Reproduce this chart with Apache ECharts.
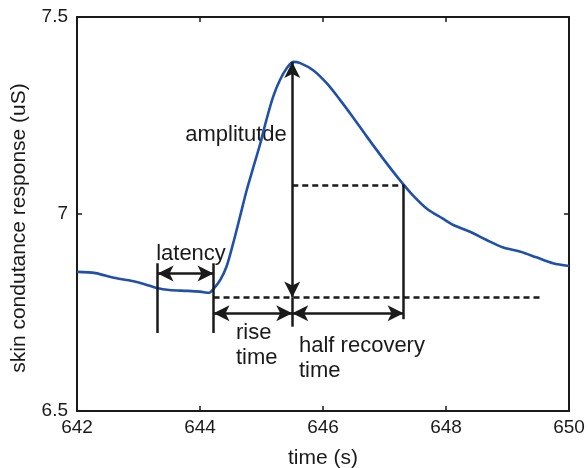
<!DOCTYPE html>
<html><head><meta charset="utf-8">
<script src="https://cdn.jsdelivr.net/npm/echarts@6/dist/echarts.min.js"></script>
<style>html,body{margin:0;padding:0;background:#fff}#c{width:588px;height:468px}</style>
</head><body><div id="c"></div>
<script>
// Skin conductance response curve
const times = [642.0, 642.3, 642.6, 642.9, 643.1, 643.3, 643.5, 643.8, 644.0, 644.15, 644.22, 644.33, 644.43, 644.54, 644.65, 644.76, 644.87, 644.98, 645.08, 645.19, 645.30, 645.41, 645.52, 645.63, 645.84, 646.06, 646.28, 646.49, 646.71, 646.98, 647.25, 647.47, 647.7, 647.95, 648.12, 648.39, 648.66, 648.93, 649.2, 649.47, 649.74, 650.0];
const conductance = [6.853, 6.850, 6.838, 6.830, 6.822, 6.812, 6.807, 6.805, 6.803, 6.800, 6.810, 6.833, 6.866, 6.926, 6.993, 7.061, 7.120, 7.179, 7.239, 7.298, 7.340, 7.370, 7.386, 7.383, 7.365, 7.332, 7.289, 7.245, 7.197, 7.140, 7.086, 7.046, 7.012, 6.988, 6.972, 6.955, 6.934, 6.915, 6.905, 6.890, 6.875, 6.868];

// Axis settings
const xMin = 642, xMax = 650, xStep = 2;
const yMin = 6.5, yMax = 7.5, yStep = 0.5;

// Annotation landmarks (data units)
const latencyStart = 643.31;
const onsetTime = 644.22;
const peakTime = 645.50;
const halfRecoveryTime = 647.31;
const baselineLevel = 6.788;
const peakLevel = 7.386;
const halfLevel = 7.074;
const latencyArrowLevel = 6.849;
const timeArrowLevel = 6.748;
const latencyBarLow = 6.698, latencyBarHigh = 6.875;
const amplitudeBarLow = 6.714;
const halfRecBarLow = 6.733;
const baselineDashEnd = 649.55;

// Text labels
const annotationLabels = {
  latency: 'latency',
  amplitude: 'amplitutde',
  rise: 'rise\ntime',
  halfRecovery: 'half recovery\ntime'
};
const xAxisName = 'time (s)';
const yAxisName = 'skin condutance response (uS)';

const FONT = '"Liberation Sans", Arial, Helvetica, sans-serif';
const ARROW = [12, 16];
const solid = {color: '#1a1a1a', width: 2.5, type: 'solid'};
const dashed = {color: '#1a1a1a', width: 2.5, type: [6, 4]};

function seg(x1, y1, x2, y2, s1, s2, style) {
  return [
    {coord: [x1, y1], symbol: s1, symbolSize: ARROW, lineStyle: style},
    {coord: [x2, y2], symbol: s2, symbolSize: ARROW}
  ];
}

const markData = [
  seg(latencyStart, latencyBarLow, latencyStart, latencyBarHigh, 'none', 'none', solid),
  seg(onsetTime, latencyBarLow, onsetTime, latencyBarHigh, 'none', 'none', solid),
  seg(latencyStart, latencyArrowLevel, onsetTime, latencyArrowLevel, 'arrow', 'arrow', solid),
  seg(onsetTime, baselineLevel, baselineDashEnd, baselineLevel, 'none', 'none', dashed),
  seg(peakTime, baselineLevel, peakTime, peakLevel, 'arrow', 'arrow', solid),
  seg(peakTime, amplitudeBarLow, peakTime, baselineLevel, 'none', 'none', solid),
  seg(peakTime, halfLevel, halfRecoveryTime, halfLevel, 'none', 'none', dashed),
  seg(halfRecoveryTime, halfRecBarLow, halfRecoveryTime, halfLevel, 'none', 'none', solid),
  seg(onsetTime, timeArrowLevel, peakTime, timeArrowLevel, 'arrow', 'arrow', solid),
  seg(peakTime, timeArrowLevel, halfRecoveryTime, timeArrowLevel, 'arrow', 'arrow', solid)
];

const chart = echarts.init(document.getElementById('c'), null, {renderer: 'canvas'});
const axisLine = {show: true, lineStyle: {color: '#1a1a1a', width: 2}};
const tick = {show: true, inside: true, length: 5, lineStyle: {color: '#1a1a1a', width: 1.5}};
const labelStyle = {color: '#1a1a1a', fontSize: 19, fontFamily: FONT};

chart.setOption({
  animation: false,
  backgroundColor: '#fff',
  grid: {left: 77, right: 19, top: 17, bottom: 57, containLabel: false, outerBoundsMode: 'none'},
  xAxis: [
    {type: 'value', min: xMin, max: xMax, interval: xStep, position: 'bottom',
     axisLine, axisTick: tick, splitLine: {show: false},
     axisLabel: {...labelStyle, margin: 7},
     name: xAxisName, nameLocation: 'middle', nameGap: 37,
     nameTextStyle: {color: '#1a1a1a', fontSize: 21, fontFamily: FONT}},
    {type: 'value', min: xMin, max: xMax, interval: xStep, position: 'top',
     axisLine, axisTick: tick, splitLine: {show: false}, axisLabel: {show: false}}
  ],
  yAxis: [
    {type: 'value', min: yMin, max: yMax, interval: yStep, position: 'left',
     axisLine, axisTick: tick, splitLine: {show: false},
     axisLabel: {...labelStyle, margin: 9, padding: [6, 0, 0, 0]}},
    {type: 'value', min: yMin, max: yMax, interval: yStep, position: 'right',
     axisLine, axisTick: tick, splitLine: {show: false}, axisLabel: {show: false}}
  ],
  series: [{
    type: 'line',
    xAxisIndex: 0, yAxisIndex: 0,
    data: times.map((t, i) => [t, conductance[i]]),
    showSymbol: false, symbol: 'none',
    smooth: 0.3,
    lineStyle: {color: '#2050a8', width: 2.6},
    z: 3,
    markLine: {
      silent: true,
      animation: false,
      label: {show: false},
      emphasis: {disabled: true},
      symbol: ['none', 'none'],
      symbolSize: ARROW,
      itemStyle: {color: '#1a1a1a'},
      lineStyle: solid,
      data: markData
    }
  }],
  graphic: [
    {type: 'text', x: 191, y: 254, style: {text: annotationLabels.latency, font: '22px ' + FONT, fill: '#1a1a1a', textAlign: 'center', textVerticalAlign: 'middle'}},
    {type: 'text', x: 236, y: 135, style: {text: annotationLabels.amplitude, font: '22px ' + FONT, fill: '#1a1a1a', textAlign: 'center', textVerticalAlign: 'middle'}},
    {type: 'text', x: 236, y: 320, style: {text: annotationLabels.rise, font: '22px ' + FONT, lineHeight: 25, fill: '#1a1a1a', textAlign: 'left', textVerticalAlign: 'top'}},
    {type: 'text', x: 299, y: 333, style: {text: annotationLabels.halfRecovery, font: '22px ' + FONT, lineHeight: 25, fill: '#1a1a1a', textAlign: 'left', textVerticalAlign: 'top'}},
    {type: 'text', x: 19, y: 228, rotation: Math.PI / 2, style: {text: yAxisName, font: '21px ' + FONT, fill: '#1a1a1a', textAlign: 'center', textVerticalAlign: 'middle'}}
  ]
});
</script>
</body></html>
